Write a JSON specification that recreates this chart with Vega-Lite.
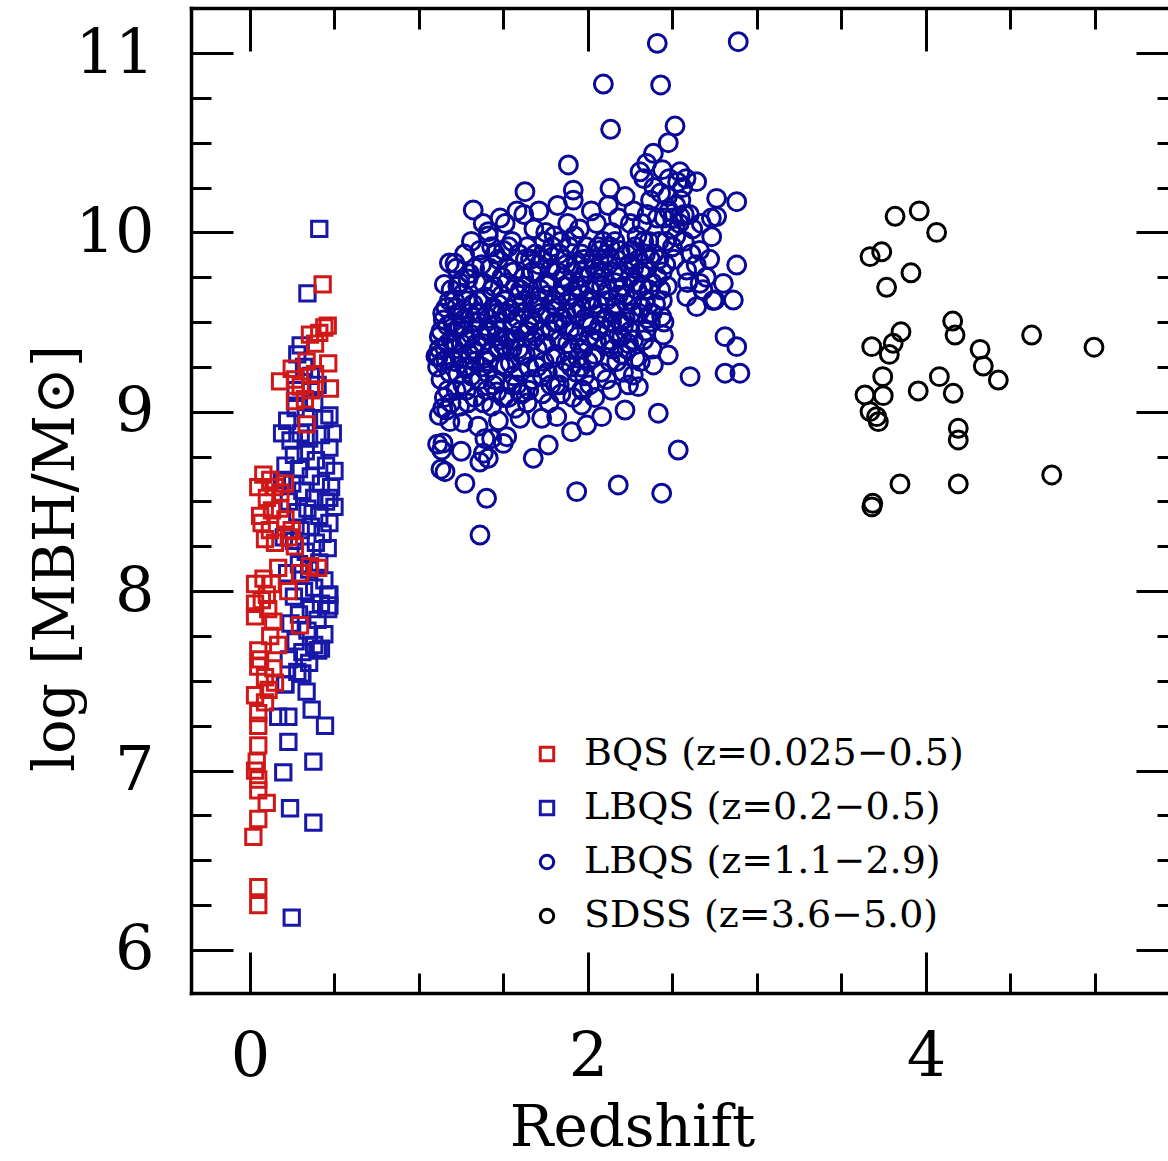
{
  "$schema": "https://vega.github.io/schema/vega-lite/v6.json",
  "autosize": {"type": "none"},
  "padding": {"left": 191, "top": 8, "right": 0, "bottom": 168},
  "width": 977,
  "height": 985,
  "background": "white",
  "config": {
    "view": {"stroke": null},
    "axis": {
      "grid": false,
      "domainColor": "black",
      "domainWidth": 3.5,
      "domainCap": "square",
      "tickColor": "black",
      "tickWidth": 3,
      "labelColor": "black",
      "titleColor": "black",
      "labelFont": "DejaVu Serif",
      "titleFont": "DejaVu Serif",
      "labelFontWeight": "normal",
      "titleFontWeight": "normal"
    }
  },
  "data": {
    "values": [
      {"s":"b","z":0.41,"m":10.02},{"s":"b","z":0.34,"m":9.66},{"s":"b","z":0.30,"m":9.37},{"s":"b","z":0.28,"m":9.32},{"s":"b","z":0.32,"m":9.25},
      {"s":"b","z":0.36,"m":9.20},{"s":"b","z":0.27,"m":9.12},{"s":"b","z":0.40,"m":9.15},{"s":"b","z":0.22,"m":8.95},{"s":"b","z":0.27,"m":9.02},
      {"s":"b","z":0.33,"m":8.97},{"s":"b","z":0.38,"m":9.05},{"s":"b","z":0.44,"m":8.96},{"s":"b","z":0.47,"m":8.98},{"s":"b","z":0.24,"m":8.84},
      {"s":"b","z":0.30,"m":8.88},{"s":"b","z":0.35,"m":8.85},{"s":"b","z":0.42,"m":8.87},{"s":"b","z":0.47,"m":8.80},{"s":"b","z":0.26,"m":8.76},
      {"s":"b","z":0.33,"m":8.78},{"s":"b","z":0.39,"m":8.73},{"s":"b","z":0.45,"m":8.70},{"s":"b","z":0.50,"m":8.67},{"s":"b","z":0.21,"m":8.70},
      {"s":"b","z":0.29,"m":8.68},{"s":"b","z":0.36,"m":8.64},{"s":"b","z":0.42,"m":8.60},{"s":"b","z":0.48,"m":8.58},{"s":"b","z":0.25,"m":8.60},
      {"s":"b","z":0.31,"m":8.56},{"s":"b","z":0.38,"m":8.52},{"s":"b","z":0.45,"m":8.50},{"s":"b","z":0.50,"m":8.47},{"s":"b","z":0.34,"m":8.46},
      {"s":"b","z":0.41,"m":8.42},{"s":"b","z":0.47,"m":8.38},{"s":"b","z":0.28,"m":8.44},{"s":"b","z":0.23,"m":8.50},{"s":"b","z":0.36,"m":8.36},
      {"s":"b","z":0.43,"m":8.32},{"s":"b","z":0.30,"m":8.34},{"s":"b","z":0.39,"m":8.27},{"s":"b","z":0.46,"m":8.24},{"s":"b","z":0.33,"m":8.22},
      {"s":"b","z":0.26,"m":8.28},{"s":"b","z":0.41,"m":8.16},{"s":"b","z":0.35,"m":8.12},{"s":"b","z":0.29,"m":8.15},{"s":"b","z":0.44,"m":8.06},
      {"s":"b","z":0.22,"m":8.10},{"s":"b","z":0.38,"m":8.02},{"s":"b","z":0.47,"m":7.98},{"s":"b","z":0.32,"m":8.00},{"s":"b","z":0.26,"m":7.97},
      {"s":"b","z":0.42,"m":7.93},{"s":"b","z":0.36,"m":7.90},{"s":"b","z":0.47,"m":7.92},{"s":"b","z":0.29,"m":7.87},{"s":"b","z":0.40,"m":7.84},
      {"s":"b","z":0.24,"m":7.82},{"s":"b","z":0.34,"m":7.78},{"s":"b","z":0.44,"m":7.76},{"s":"b","z":0.27,"m":7.72},{"s":"b","z":0.38,"m":7.70},
      {"s":"b","z":0.31,"m":7.66},{"s":"b","z":0.42,"m":7.68},{"s":"b","z":0.23,"m":7.62},{"s":"b","z":0.35,"m":7.60},{"s":"b","z":0.28,"m":7.55},
      {"s":"b","z":0.31,"m":7.54},{"s":"b","z":0.21,"m":7.48},{"s":"b","z":0.40,"m":7.67},{"s":"b","z":0.463,"m":7.98},{"s":"b","z":0.463,"m":7.90},
      {"s":"b","z":0.404,"m":7.67},{"s":"b","z":0.306,"m":7.54},{"s":"b","z":0.207,"m":7.48},{"s":"b","z":0.335,"m":7.44},{"s":"b","z":0.365,"m":7.34},
      {"s":"b","z":0.444,"m":7.25},{"s":"b","z":0.167,"m":7.30},{"s":"b","z":0.227,"m":7.30},{"s":"b","z":0.227,"m":7.16},{"s":"b","z":0.375,"m":7.05},
      {"s":"b","z":0.197,"m":6.99},{"s":"b","z":0.237,"m":6.79},{"s":"b","z":0.375,"m":6.71},{"s":"b","z":0.247,"m":6.18},{"s":"b","z":0.19,"m":8.88},
      {"s":"b","z":0.19,"m":8.62},{"s":"b","z":0.47,"m":8.52},{"s":"b","z":0.49,"m":8.88},{"s":"b","z":0.20,"m":8.30},

      {"s":"a","z":0.43,"m":9.71},{"s":"a","z":0.44,"m":9.47},{"s":"a","z":0.46,"m":9.48},{"s":"a","z":0.355,"m":9.43},{"s":"a","z":0.41,"m":9.44},
      {"s":"a","z":0.385,"m":9.38},{"s":"a","z":0.463,"m":9.27},{"s":"a","z":0.335,"m":9.28},{"s":"a","z":0.247,"m":9.24},{"s":"a","z":0.178,"m":9.17},
      {"s":"a","z":0.266,"m":9.18},{"s":"a","z":0.385,"m":9.21},{"s":"a","z":0.473,"m":9.13},{"s":"a","z":0.325,"m":9.07},{"s":"a","z":0.266,"m":9.06},
      {"s":"a","z":0.36,"m":9.12},{"s":"a","z":0.30,"m":9.14},{"s":"a","z":0.335,"m":8.93},{"s":"a","z":0.079,"m":8.65},{"s":"a","z":0.049,"m":8.58},
      {"s":"a","z":0.148,"m":8.58},{"s":"a","z":0.207,"m":8.60},{"s":"a","z":0.12,"m":8.62},{"s":"a","z":0.18,"m":8.55},{"s":"a","z":0.10,"m":8.52},
      {"s":"a","z":0.069,"m":8.38},{"s":"a","z":0.118,"m":8.34},{"s":"a","z":0.178,"m":8.46},{"s":"a","z":0.247,"m":8.34},{"s":"a","z":0.266,"m":8.25},
      {"s":"a","z":0.148,"m":8.27},{"s":"a","z":0.089,"m":8.29},{"s":"a","z":0.06,"m":8.42},{"s":"a","z":0.21,"m":8.40},{"s":"a","z":0.13,"m":8.45},
      {"s":"a","z":0.23,"m":8.30},{"s":"a","z":0.355,"m":8.14},{"s":"a","z":0.404,"m":8.13},{"s":"a","z":0.167,"m":8.13},{"s":"a","z":0.296,"m":8.10},
      {"s":"a","z":0.030,"m":8.04},{"s":"a","z":0.128,"m":8.04},{"s":"a","z":0.227,"m":8.00},{"s":"a","z":0.030,"m":7.93},{"s":"a","z":0.108,"m":7.90},
      {"s":"a","z":0.138,"m":7.83},{"s":"a","z":0.296,"m":7.81},{"s":"a","z":0.167,"m":7.70},{"s":"a","z":0.049,"m":7.67},{"s":"a","z":0.049,"m":7.58},
      {"s":"a","z":0.138,"m":7.57},{"s":"a","z":0.089,"m":7.52},{"s":"a","z":0.148,"m":7.49},{"s":"a","z":0.030,"m":7.42},{"s":"a","z":0.089,"m":7.38},
      {"s":"a","z":0.049,"m":7.32},{"s":"a","z":0.049,"m":7.25},{"s":"a","z":0.049,"m":7.14},{"s":"a","z":0.030,"m":7.00},{"s":"a","z":0.049,"m":6.95},
      {"s":"a","z":0.049,"m":6.89},{"s":"a","z":0.099,"m":6.82},{"s":"a","z":0.049,"m":6.73},{"s":"a","z":0.020,"m":6.63},{"s":"a","z":0.049,"m":6.35},
      {"s":"a","z":0.049,"m":6.25},{"s":"a","z":0.07,"m":7.95},{"s":"a","z":0.10,"m":7.98},{"s":"a","z":0.06,"m":7.62},{"s":"a","z":0.11,"m":7.45},
      {"s":"a","z":0.04,"m":7.05},{"s":"a","z":0.08,"m":8.07},{"s":"a","z":0.12,"m":7.75},{"s":"a","z":0.03,"m":7.86},

      {"s":"c","z":1.10,"m":9.31},{"s":"c","z":1.12,"m":9.42},{"s":"c","z":1.11,"m":9.25},{"s":"c","z":1.14,"m":9.55},{"s":"c","z":1.15,"m":9.36},
      {"s":"c","z":1.13,"m":9.18},{"s":"c","z":1.17,"m":9.48},{"s":"c","z":1.18,"m":9.62},{"s":"c","z":1.16,"m":9.29},{"s":"c","z":1.19,"m":9.05},
      {"s":"c","z":1.12,"m":8.98},{"s":"c","z":1.15,"m":9.71},{"s":"c","z":1.19,"m":9.40},{"s":"c","z":1.11,"m":8.82},{"s":"c","z":1.13,"m":8.68},
      {"s":"c","z":1.17,"m":9.12},{"s":"c","z":1.18,"m":9.83},{"s":"c","z":1.14,"m":9.02},
      {"s":"c","z":1.21,"m":9.35},{"s":"c","z":1.22,"m":9.58},{"s":"c","z":1.24,"m":9.47},{"s":"c","z":1.23,"m":9.21},{"s":"c","z":1.26,"m":9.66},
      {"s":"c","z":1.25,"m":9.30},{"s":"c","z":1.27,"m":9.52},{"s":"c","z":1.28,"m":9.12},{"s":"c","z":1.29,"m":9.74},{"s":"c","z":1.22,"m":9.80},
      {"s":"c","z":1.24,"m":9.03},{"s":"c","z":1.26,"m":8.94},{"s":"c","z":1.28,"m":9.40},{"s":"c","z":1.21,"m":9.62},{"s":"c","z":1.27,"m":9.88},
      {"s":"c","z":1.29,"m":9.25},{"s":"c","z":1.23,"m":9.70},{"s":"c","z":1.25,"m":8.78},{"s":"c","z":1.30,"m":9.55},{"s":"c","z":1.26,"m":9.15},
      {"s":"c","z":1.31,"m":9.43},{"s":"c","z":1.32,"m":9.60},{"s":"c","z":1.33,"m":9.28},{"s":"c","z":1.34,"m":9.72},{"s":"c","z":1.35,"m":9.50},
      {"s":"c","z":1.36,"m":9.18},{"s":"c","z":1.37,"m":9.82},{"s":"c","z":1.38,"m":9.38},{"s":"c","z":1.39,"m":9.64},{"s":"c","z":1.31,"m":9.95},
      {"s":"c","z":1.33,"m":9.08},{"s":"c","z":1.35,"m":8.92},{"s":"c","z":1.36,"m":9.90},{"s":"c","z":1.38,"m":9.05},{"s":"c","z":1.40,"m":9.45},
      {"s":"c","z":1.32,"m":9.35},{"s":"c","z":1.34,"m":9.55},{"s":"c","z":1.37,"m":9.25},{"s":"c","z":1.39,"m":8.85},{"s":"c","z":1.30,"m":9.77},
      {"s":"c","z":1.36,"m":8.72},{"s":"c","z":1.38,"m":10.05},
      {"s":"c","z":1.41,"m":9.52},{"s":"c","z":1.42,"m":9.33},{"s":"c","z":1.43,"m":9.68},{"s":"c","z":1.44,"m":9.15},{"s":"c","z":1.45,"m":9.88},
      {"s":"c","z":1.46,"m":9.42},{"s":"c","z":1.47,"m":9.60},{"s":"c","z":1.48,"m":9.26},{"s":"c","z":1.49,"m":9.75},{"s":"c","z":1.41,"m":9.98},
      {"s":"c","z":1.43,"m":9.03},{"s":"c","z":1.45,"m":9.48},{"s":"c","z":1.47,"m":8.95},{"s":"c","z":1.48,"m":10.08},{"s":"c","z":1.50,"m":9.37},
      {"s":"c","z":1.42,"m":9.80},{"s":"c","z":1.44,"m":9.58},{"s":"c","z":1.46,"m":9.11},{"s":"c","z":1.49,"m":9.55},{"s":"c","z":1.40,"m":9.22},
      {"s":"c","z":1.47,"m":9.85},{"s":"c","z":1.43,"m":8.85},
      {"s":"c","z":1.51,"m":9.62},{"s":"c","z":1.52,"m":9.41},{"s":"c","z":1.53,"m":9.80},{"s":"c","z":1.54,"m":9.27},{"s":"c","z":1.55,"m":9.95},
      {"s":"c","z":1.56,"m":9.50},{"s":"c","z":1.57,"m":9.70},{"s":"c","z":1.58,"m":9.15},{"s":"c","z":1.59,"m":9.88},{"s":"c","z":1.51,"m":10.05},
      {"s":"c","z":1.53,"m":9.08},{"s":"c","z":1.55,"m":9.35},{"s":"c","z":1.57,"m":9.02},{"s":"c","z":1.58,"m":10.12},{"s":"c","z":1.60,"m":9.45},
      {"s":"c","z":1.52,"m":9.72},{"s":"c","z":1.54,"m":9.57},{"s":"c","z":1.56,"m":9.20},{"s":"c","z":1.59,"m":9.65},{"s":"c","z":1.50,"m":9.90},
      {"s":"c","z":1.57,"m":9.40},
      {"s":"c","z":1.61,"m":9.55},{"s":"c","z":1.62,"m":9.75},{"s":"c","z":1.63,"m":9.32},{"s":"c","z":1.64,"m":9.92},{"s":"c","z":1.65,"m":9.48},
      {"s":"c","z":1.66,"m":9.65},{"s":"c","z":1.67,"m":9.18},{"s":"c","z":1.68,"m":10.02},{"s":"c","z":1.69,"m":9.42},{"s":"c","z":1.61,"m":9.10},
      {"s":"c","z":1.63,"m":9.85},{"s":"c","z":1.65,"m":9.25},{"s":"c","z":1.67,"m":9.78},{"s":"c","z":1.68,"m":9.60},{"s":"c","z":1.70,"m":9.35},
      {"s":"c","z":1.62,"m":10.10},{"s":"c","z":1.64,"m":9.05},{"s":"c","z":1.66,"m":9.52},{"s":"c","z":1.69,"m":9.88},{"s":"c","z":1.60,"m":9.68},
      {"s":"c","z":1.71,"m":9.62},{"s":"c","z":1.72,"m":9.45},{"s":"c","z":1.73,"m":9.85},{"s":"c","z":1.74,"m":9.28},{"s":"c","z":1.75,"m":10.00},
      {"s":"c","z":1.76,"m":9.55},{"s":"c","z":1.77,"m":9.72},{"s":"c","z":1.78,"m":9.15},{"s":"c","z":1.79,"m":9.92},{"s":"c","z":1.71,"m":10.12},
      {"s":"c","z":1.73,"m":9.10},{"s":"c","z":1.75,"m":9.38},{"s":"c","z":1.77,"m":9.05},{"s":"c","z":1.78,"m":9.80},{"s":"c","z":1.80,"m":9.50},
      {"s":"c","z":1.72,"m":9.68},{"s":"c","z":1.74,"m":9.95},{"s":"c","z":1.76,"m":9.22},{"s":"c","z":1.79,"m":9.60},{"s":"c","z":1.70,"m":9.78},
      {"s":"c","z":1.81,"m":9.58},{"s":"c","z":1.82,"m":9.78},{"s":"c","z":1.83,"m":9.40},{"s":"c","z":1.84,"m":9.95},{"s":"c","z":1.85,"m":9.52},
      {"s":"c","z":1.86,"m":9.70},{"s":"c","z":1.87,"m":9.28},{"s":"c","z":1.88,"m":10.05},{"s":"c","z":1.89,"m":9.45},{"s":"c","z":1.81,"m":9.15},
      {"s":"c","z":1.83,"m":9.88},{"s":"c","z":1.85,"m":9.22},{"s":"c","z":1.87,"m":9.82},{"s":"c","z":1.88,"m":9.62},{"s":"c","z":1.90,"m":9.35},
      {"s":"c","z":1.82,"m":10.15},{"s":"c","z":1.84,"m":9.10},{"s":"c","z":1.86,"m":9.48},{"s":"c","z":1.89,"m":9.72},{"s":"c","z":1.80,"m":9.98},
      {"s":"c","z":1.91,"m":9.65},{"s":"c","z":1.92,"m":9.45},{"s":"c","z":1.93,"m":9.82},{"s":"c","z":1.94,"m":9.30},{"s":"c","z":1.95,"m":10.02},
      {"s":"c","z":1.96,"m":9.58},{"s":"c","z":1.97,"m":9.75},{"s":"c","z":1.98,"m":9.20},{"s":"c","z":1.99,"m":9.92},{"s":"c","z":1.91,"m":9.08},
      {"s":"c","z":1.93,"m":9.55},{"s":"c","z":1.95,"m":9.38},{"s":"c","z":1.97,"m":9.12},{"s":"c","z":1.98,"m":9.85},{"s":"c","z":2.00,"m":9.50},
      {"s":"c","z":1.92,"m":9.98},{"s":"c","z":1.94,"m":9.70},{"s":"c","z":1.96,"m":9.25},{"s":"c","z":1.99,"m":9.62},
      {"s":"c","z":2.01,"m":9.68},{"s":"c","z":2.02,"m":9.48},{"s":"c","z":2.03,"m":9.85},{"s":"c","z":2.04,"m":9.32},{"s":"c","z":2.05,"m":10.05},
      {"s":"c","z":2.06,"m":9.60},{"s":"c","z":2.07,"m":9.78},{"s":"c","z":2.08,"m":9.22},{"s":"c","z":2.09,"m":9.95},{"s":"c","z":2.01,"m":9.15},
      {"s":"c","z":2.03,"m":9.58},{"s":"c","z":2.05,"m":9.40},{"s":"c","z":2.07,"m":9.90},{"s":"c","z":2.08,"m":9.70},{"s":"c","z":2.10,"m":9.52},
      {"s":"c","z":2.02,"m":10.12},{"s":"c","z":2.04,"m":9.08},{"s":"c","z":2.06,"m":9.45},{"s":"c","z":2.09,"m":9.75},
      {"s":"c","z":2.11,"m":9.62},{"s":"c","z":2.12,"m":9.82},{"s":"c","z":2.13,"m":9.40},{"s":"c","z":2.14,"m":10.00},{"s":"c","z":2.15,"m":9.55},
      {"s":"c","z":2.16,"m":9.72},{"s":"c","z":2.17,"m":9.28},{"s":"c","z":2.18,"m":10.08},{"s":"c","z":2.19,"m":9.50},{"s":"c","z":2.11,"m":9.18},
      {"s":"c","z":2.13,"m":9.92},{"s":"c","z":2.15,"m":9.35},{"s":"c","z":2.17,"m":9.85},{"s":"c","z":2.18,"m":9.65},{"s":"c","z":2.20,"m":9.42},
      {"s":"c","z":2.12,"m":10.15},{"s":"c","z":2.14,"m":9.12},{"s":"c","z":2.16,"m":9.58},{"s":"c","z":2.19,"m":9.78},
      {"s":"c","z":2.21,"m":9.70},{"s":"c","z":2.22,"m":9.52},{"s":"c","z":2.23,"m":9.88},{"s":"c","z":2.24,"m":9.38},{"s":"c","z":2.25,"m":10.05},
      {"s":"c","z":2.26,"m":9.62},{"s":"c","z":2.27,"m":9.80},{"s":"c","z":2.28,"m":9.30},{"s":"c","z":2.29,"m":9.98},{"s":"c","z":2.21,"m":9.22},
      {"s":"c","z":2.23,"m":9.60},{"s":"c","z":2.25,"m":9.45},{"s":"c","z":2.27,"m":10.12},{"s":"c","z":2.28,"m":9.72},{"s":"c","z":2.30,"m":9.55},
      {"s":"c","z":2.22,"m":10.20},{"s":"c","z":2.24,"m":9.15},{"s":"c","z":2.26,"m":9.90},
      {"s":"c","z":2.31,"m":9.78},{"s":"c","z":2.32,"m":9.58},{"s":"c","z":2.33,"m":9.95},{"s":"c","z":2.34,"m":9.45},{"s":"c","z":2.35,"m":10.10},
      {"s":"c","z":2.36,"m":9.68},{"s":"c","z":2.37,"m":9.85},{"s":"c","z":2.38,"m":9.35},{"s":"c","z":2.39,"m":10.25},{"s":"c","z":2.31,"m":9.28},
      {"s":"c","z":2.33,"m":10.30},{"s":"c","z":2.35,"m":9.52},{"s":"c","z":2.37,"m":10.18},{"s":"c","z":2.38,"m":9.72},{"s":"c","z":2.40,"m":9.60},
      {"s":"c","z":2.32,"m":10.05},{"s":"c","z":2.34,"m":9.88},
      {"s":"c","z":2.41,"m":9.75},{"s":"c","z":2.42,"m":9.95},{"s":"c","z":2.43,"m":10.22},{"s":"c","z":2.44,"m":9.62},{"s":"c","z":2.45,"m":10.08},
      {"s":"c","z":2.46,"m":9.82},{"s":"c","z":2.48,"m":10.30},{"s":"c","z":2.50,"m":9.92},{"s":"c","z":2.52,"m":10.15},{"s":"c","z":2.47,"m":9.70},
      {"s":"c","z":2.49,"m":10.02},{"s":"c","z":2.53,"m":10.28},{"s":"c","z":2.51,"m":9.85},{"s":"c","z":2.54,"m":10.05},{"s":"c","z":2.45,"m":9.50},
      {"s":"c","z":2.56,"m":10.25},{"s":"c","z":2.58,"m":10.30},{"s":"c","z":2.60,"m":10.10},{"s":"c","z":2.57,"m":9.95},{"s":"c","z":2.62,"m":10.02},
      {"s":"c","z":2.64,"m":9.82},{"s":"c","z":2.66,"m":9.90},{"s":"c","z":2.68,"m":9.68},{"s":"c","z":2.70,"m":9.75},{"s":"c","z":2.72,"m":9.85},
      {"s":"c","z":2.74,"m":9.62},{"s":"c","z":2.59,"m":9.72},{"s":"c","z":2.61,"m":9.88},{"s":"c","z":2.67,"m":10.05},{"s":"c","z":2.73,"m":10.08},
      {"s":"c","z":1.13,"m":9.45},{"s":"c","z":1.16,"m":9.58},{"s":"c","z":1.12,"m":9.35},{"s":"c","z":1.18,"m":9.22},{"s":"c","z":1.20,"m":9.50},
      {"s":"c","z":1.15,"m":9.08},{"s":"c","z":1.19,"m":9.68},{"s":"c","z":1.14,"m":9.28},{"s":"c","z":1.17,"m":9.38},{"s":"c","z":1.21,"m":9.45},
      {"s":"c","z":1.23,"m":9.55},{"s":"c","z":1.25,"m":9.38},{"s":"c","z":1.27,"m":9.25},{"s":"c","z":1.24,"m":9.72},{"s":"c","z":1.22,"m":9.12},
      {"s":"c","z":1.28,"m":9.62},{"s":"c","z":1.30,"m":9.32},{"s":"c","z":1.26,"m":9.48},{"s":"c","z":1.29,"m":9.05},{"s":"c","z":1.21,"m":9.28},
      {"s":"c","z":1.32,"m":9.50},{"s":"c","z":1.34,"m":9.38},{"s":"c","z":1.31,"m":9.20},{"s":"c","z":1.35,"m":9.62},{"s":"c","z":1.37,"m":9.42},
      {"s":"c","z":1.33,"m":9.80},{"s":"c","z":1.39,"m":9.30},{"s":"c","z":1.36,"m":9.55},{"s":"c","z":1.38,"m":9.72},{"s":"c","z":1.40,"m":9.12},
      {"s":"c","z":1.42,"m":9.45},{"s":"c","z":1.44,"m":9.70},{"s":"c","z":1.41,"m":9.28},{"s":"c","z":1.46,"m":9.55},{"s":"c","z":1.48,"m":9.40},
      {"s":"c","z":1.43,"m":9.92},{"s":"c","z":1.45,"m":9.18},{"s":"c","z":1.47,"m":9.35},{"s":"c","z":1.49,"m":9.65},{"s":"c","z":1.50,"m":9.08},
      {"s":"c","z":1.52,"m":9.55},{"s":"c","z":1.54,"m":9.40},{"s":"c","z":1.51,"m":9.25},{"s":"c","z":1.56,"m":9.78},{"s":"c","z":1.58,"m":9.52},
      {"s":"c","z":1.53,"m":9.92},{"s":"c","z":1.55,"m":9.15},{"s":"c","z":1.57,"m":9.60},{"s":"c","z":1.59,"m":9.35},{"s":"c","z":1.60,"m":9.22},
      {"s":"c","z":1.62,"m":9.62},{"s":"c","z":1.64,"m":9.45},{"s":"c","z":1.61,"m":9.32},{"s":"c","z":1.66,"m":9.85},{"s":"c","z":1.68,"m":9.50},
      {"s":"c","z":1.63,"m":9.70},{"s":"c","z":1.65,"m":9.12},{"s":"c","z":1.67,"m":9.40},{"s":"c","z":1.69,"m":9.58},{"s":"c","z":1.70,"m":9.25},
      {"s":"c","z":1.72,"m":9.55},{"s":"c","z":1.74,"m":9.38},{"s":"c","z":1.71,"m":9.82},{"s":"c","z":1.76,"m":9.65},{"s":"c","z":1.78,"m":9.45},
      {"s":"c","z":1.73,"m":9.20},{"s":"c","z":1.75,"m":9.72},{"s":"c","z":1.77,"m":9.88},{"s":"c","z":1.79,"m":9.30},{"s":"c","z":1.80,"m":9.62},
      {"s":"c","z":1.82,"m":9.50},{"s":"c","z":1.84,"m":9.65},{"s":"c","z":1.81,"m":9.32},{"s":"c","z":1.86,"m":9.85},{"s":"c","z":1.88,"m":9.38},
      {"s":"c","z":1.83,"m":9.15},{"s":"c","z":1.85,"m":9.75},{"s":"c","z":1.87,"m":9.55},{"s":"c","z":1.89,"m":9.92},{"s":"c","z":1.90,"m":9.25},
      {"s":"c","z":1.92,"m":9.58},{"s":"c","z":1.94,"m":9.42},{"s":"c","z":1.91,"m":9.78},{"s":"c","z":1.96,"m":9.88},{"s":"c","z":1.98,"m":9.52},
      {"s":"c","z":1.93,"m":9.22},{"s":"c","z":1.95,"m":9.68},{"s":"c","z":1.97,"m":9.35},{"s":"c","z":1.99,"m":9.80},{"s":"c","z":2.00,"m":9.28},
      {"s":"c","z":2.02,"m":9.62},{"s":"c","z":2.04,"m":9.80},{"s":"c","z":2.01,"m":9.42},{"s":"c","z":2.06,"m":9.92},{"s":"c","z":2.08,"m":9.55},
      {"s":"c","z":2.03,"m":9.30},{"s":"c","z":2.05,"m":9.72},{"s":"c","z":2.07,"m":9.48},{"s":"c","z":2.09,"m":9.85},{"s":"c","z":2.10,"m":9.38},
      {"s":"c","z":2.12,"m":9.68},{"s":"c","z":2.14,"m":9.50},{"s":"c","z":2.11,"m":9.88},{"s":"c","z":2.16,"m":9.95},{"s":"c","z":2.18,"m":9.42},
      {"s":"c","z":2.13,"m":9.28},{"s":"c","z":2.15,"m":9.78},{"s":"c","z":2.17,"m":9.60},{"s":"c","z":2.19,"m":9.90},{"s":"c","z":2.20,"m":9.32},
      {"s":"c","z":2.22,"m":9.65},{"s":"c","z":2.24,"m":9.82},{"s":"c","z":2.21,"m":9.48},{"s":"c","z":2.26,"m":9.55},{"s":"c","z":2.28,"m":9.92},
      {"s":"c","z":2.23,"m":9.35},{"s":"c","z":2.25,"m":9.75},{"s":"c","z":2.27,"m":9.40},{"s":"c","z":2.29,"m":9.68},{"s":"c","z":2.30,"m":9.85},
      {"s":"c","z":2.32,"m":9.70},{"s":"c","z":2.34,"m":9.62},{"s":"c","z":2.36,"m":9.95},{"s":"c","z":2.38,"m":9.55},{"s":"c","z":2.35,"m":9.80},
      {"s":"c","z":2.33,"m":9.40},{"s":"c","z":2.39,"m":9.88},{"s":"c","z":2.37,"m":9.50},{"s":"c","z":2.42,"m":9.85},{"s":"c","z":2.44,"m":9.78},
      {"s":"c","z":2.46,"m":9.95},{"s":"c","z":2.48,"m":10.12},{"s":"c","z":2.41,"m":10.08},{"s":"c","z":2.43,"m":9.68},{"s":"c","z":2.47,"m":10.20},
      {"s":"c","z":2.50,"m":10.08},{"s":"c","z":2.52,"m":9.98},{"s":"c","z":2.55,"m":10.18},{"s":"c","z":2.57,"m":10.10},{"s":"c","z":2.44,"m":10.35},
      {"s":"c","z":2.410,"m":11.054},{"s":"c","z":2.889,"m":11.063},{"s":"c","z":2.091,"m":10.827},{"s":"c","z":2.430,"m":10.822},{"s":"c","z":2.134,"m":10.575},
      {"s":"c","z":2.515,"m":10.593},{"s":"c","z":2.475,"m":10.500},{"s":"c","z":2.387,"m":10.441},{"s":"c","z":1.884,"m":10.376},{"s":"c","z":2.347,"m":10.385},
      {"s":"c","z":2.308,"m":10.338},{"s":"c","z":2.544,"m":10.338},{"s":"c","z":2.643,"m":10.283},{"s":"c","z":1.627,"m":10.227},{"s":"c","z":1.321,"m":10.125},
      {"s":"c","z":1.913,"m":10.236},{"s":"c","z":1.913,"m":10.180},{"s":"c","z":2.130,"m":10.246},{"s":"c","z":2.761,"m":10.190},{"s":"c","z":2.880,"m":10.171},
      {"s":"c","z":2.761,"m":10.088},{"s":"c","z":2.544,"m":10.088},{"s":"c","z":1.410,"m":10.004},{"s":"c","z":2.732,"m":9.976},{"s":"c","z":2.880,"m":9.818},
      {"s":"c","z":2.584,"m":9.790},{"s":"c","z":2.663,"m":9.716},{"s":"c","z":2.801,"m":9.716},{"s":"c","z":2.643,"m":9.586},{"s":"c","z":2.860,"m":9.623},
      {"s":"c","z":2.751,"m":9.623},{"s":"c","z":2.584,"m":9.642},{"s":"c","z":2.811,"m":9.419},{"s":"c","z":2.880,"m":9.363},{"s":"c","z":2.811,"m":9.215},
      {"s":"c","z":2.899,"m":9.215},{"s":"c","z":2.604,"m":9.196},{"s":"c","z":2.436,"m":9.530},{"s":"c","z":2.446,"m":9.428},{"s":"c","z":2.475,"m":9.317},
      {"s":"c","z":2.387,"m":9.261},{"s":"c","z":2.268,"m":9.205},{"s":"c","z":2.298,"m":9.140},{"s":"c","z":2.534,"m":8.787},{"s":"c","z":2.416,"m":8.992},
      {"s":"c","z":2.219,"m":9.010},{"s":"c","z":2.081,"m":8.973},{"s":"c","z":1.963,"m":9.038},{"s":"c","z":1.992,"m":8.926},{"s":"c","z":1.903,"m":8.889},
      {"s":"c","z":1.963,"m":9.122},{"s":"c","z":1.815,"m":8.973},{"s":"c","z":1.726,"m":8.964},{"s":"c","z":1.598,"m":8.964},{"s":"c","z":1.765,"m":8.815},
      {"s":"c","z":1.676,"m":8.741},{"s":"c","z":1.933,"m":8.555},{"s":"c","z":2.179,"m":8.592},{"s":"c","z":2.436,"m":8.546},{"s":"c","z":1.361,"m":8.313},
      {"s":"c","z":1.400,"m":8.518},{"s":"c","z":1.272,"m":8.601},{"s":"c","z":1.154,"m":8.666},{"s":"c","z":1.134,"m":8.787},{"s":"c","z":1.142,"m":8.826},
      {"s":"c","z":1.410,"m":8.741},{"s":"c","z":1.381,"m":8.769},{"s":"c","z":1.499,"m":8.824},{"s":"c","z":1.519,"m":8.861},{"s":"c","z":1.598,"m":9.103},
      {"s":"c","z":1.183,"m":8.945},{"s":"c","z":1.164,"m":9.010},{"s":"c","z":1.144,"m":9.512},{"s":"c","z":1.213,"m":9.828},{"s":"c","z":1.114,"m":9.307},

      {"s":"d","z":3.817,"m":10.09},{"s":"d","z":3.960,"m":10.12},{"s":"d","z":4.063,"m":10.00},{"s":"d","z":3.669,"m":9.865},{"s":"d","z":3.738,"m":9.892},
      {"s":"d","z":3.911,"m":9.775},{"s":"d","z":3.767,"m":9.694},{"s":"d","z":4.158,"m":9.506},{"s":"d","z":4.172,"m":9.428},{"s":"d","z":3.852,"m":9.446},
      {"s":"d","z":3.679,"m":9.363},{"s":"d","z":3.806,"m":9.382},{"s":"d","z":3.783,"m":9.320},{"s":"d","z":4.625,"m":9.428},{"s":"d","z":4.994,"m":9.360},
      {"s":"d","z":4.320,"m":9.348},{"s":"d","z":4.339,"m":9.255},{"s":"d","z":4.428,"m":9.177},{"s":"d","z":3.744,"m":9.196},{"s":"d","z":4.079,"m":9.196},
      {"s":"d","z":3.954,"m":9.116},{"s":"d","z":4.161,"m":9.103},{"s":"d","z":3.639,"m":9.094},{"s":"d","z":3.747,"m":9.090},{"s":"d","z":3.669,"m":9.001},
      {"s":"d","z":3.708,"m":8.973},{"s":"d","z":3.718,"m":8.945},{"s":"d","z":4.191,"m":8.908},{"s":"d","z":4.191,"m":8.843},{"s":"d","z":3.846,"m":8.598},
      {"s":"d","z":4.191,"m":8.598},{"s":"d","z":4.744,"m":8.648},{"s":"d","z":3.685,"m":8.490},{"s":"d","z":3.680,"m":8.470}
    ]
  },
  "resolve": {"axis": {"x": "independent", "y": "independent"}},
  "layer": [
    {
      "transform": [{"filter": "datum.s == 'a' || datum.s == 'b'"}],
      "mark": {"type": "point", "filled": false, "strokeWidth": 3, "size": 235, "opacity": 1},
      "encoding": {
        "x": {"field": "z", "type": "quantitative",
              "scale": {"domain": [-0.349, 5.432], "zero": false, "nice": false},
              "axis": {"orient": "bottom", "values": [0, 2, 4], "ticks": false, "tickSize": 0,
                       "labelFontSize": 62, "labelPadding": 82, "labelBaseline": "alphabetic", "labelFlush": false,
                       "title": "Redshift", "titleFontSize": 58, "titleBaseline": "alphabetic", "titleAlign": "center",
                       "titleX": 441, "titleY": 152}},
        "y": {"field": "m", "type": "quantitative",
              "scale": {"domain": [5.76, 11.251], "zero": false, "nice": false},
              "axis": {"orient": "left", "values": [6, 7, 8, 9, 10, 11], "ticks": false, "tickSize": 0,
                       "labelFontSize": 62, "labelPadding": 37, "labelBaseline": "middle", "labelFlush": false,
                       "title": "log [MBH/M⊙]", "titleFontSize": 57, "titleAngle": 270, "titleBaseline": "alphabetic",
                       "titleAlign": "center", "titleX": -118, "titleY": 550}},
        "color": {"field": "s", "type": "nominal",
                  "scale": {"domain": ["a", "b", "c", "d"], "range": ["#d01818", "#1818a8", "#0a0a98", "#000000"]},
                  "legend": {"title": null, "orient": "none", "legendX": 337, "legendY": 727,
                             "labelFont": "DejaVu Serif", "labelFontSize": 38, "labelColor": "black",
                             "labelExpr": "datum.label == 'a' ? 'BQS (z=0.025−0.5)' : datum.label == 'b' ? 'LBQS (z=0.2−0.5)' : datum.label == 'c' ? 'LBQS (z=1.1−2.9)' : 'SDSS (z=3.6−5.0)'",
                             "symbolSize": 180, "symbolStrokeWidth": 3, "symbolFillColor": "transparent",
                             "labelOffset": 18, "rowPadding": 16, "labelLimit": 600}},
        "shape": {"field": "s", "type": "nominal",
                  "scale": {"domain": ["a", "b", "c", "d"], "range": ["square", "square", "circle", "circle"]},
                  "legend": {"title": null, "orient": "none", "legendX": 337, "legendY": 727,
                             "labelFont": "DejaVu Serif", "labelFontSize": 38, "labelColor": "black",
                             "labelExpr": "datum.label == 'a' ? 'BQS (z=0.025−0.5)' : datum.label == 'b' ? 'LBQS (z=0.2−0.5)' : datum.label == 'c' ? 'LBQS (z=1.1−2.9)' : 'SDSS (z=3.6−5.0)'",
                             "symbolSize": 180, "symbolStrokeWidth": 3, "symbolFillColor": "transparent",
                             "labelOffset": 18, "rowPadding": 16, "labelLimit": 600}}
      }
    },
    {
      "transform": [{"filter": "datum.s == 'c' || datum.s == 'd'"}],
      "mark": {"type": "point", "filled": false, "strokeWidth": 3, "size": 320, "opacity": 1},
      "encoding": {
        "x": {"field": "z", "type": "quantitative",
              "axis": {"orient": "bottom", "values": [0, 2, 4], "tickSize": -41, "labels": false, "domain": false, "title": null}},
        "y": {"field": "m", "type": "quantitative",
              "axis": {"orient": "left", "values": [6, 7, 8, 9, 10, 11], "tickSize": -42, "labels": false, "domain": false, "title": null}},
        "color": {"field": "s", "type": "nominal"},
        "shape": {"field": "s", "type": "nominal"}
      }
    },
    {
      "transform": [{"filter": "datum.s == 'd'"}],
      "mark": {"type": "point", "opacity": 0},
      "encoding": {
        "x": {"field": "z", "type": "quantitative",
              "axis": {"orient": "bottom", "values": [0.5, 1, 1.5, 2.5, 3, 3.5, 4.5, 5], "tickSize": -20, "labels": false, "domain": false, "title": null}},
        "y": {"field": "m", "type": "quantitative",
              "axis": {"orient": "left", "values": [6.25, 6.5, 6.75, 7.25, 7.5, 7.75, 8.25, 8.5, 8.75, 9.25, 9.5, 9.75, 10.25, 10.5, 10.75], "tickSize": -20, "labels": false, "domain": false, "title": null}}
      }
    },
    {
      "transform": [{"filter": "datum.s == 'd'"}],
      "mark": {"type": "point", "opacity": 0},
      "encoding": {
        "x": {"field": "z", "type": "quantitative",
              "axis": {"orient": "top", "values": [0, 2, 4], "tickSize": -43, "labels": false, "domain": true, "title": null}},
        "y": {"field": "m", "type": "quantitative",
              "axis": {"orient": "right", "values": [6, 7, 8, 9, 10, 11], "tickSize": -32, "labels": false, "domain": false, "title": null}}
      }
    },
    {
      "transform": [{"filter": "datum.s == 'd'"}],
      "mark": {"type": "point", "opacity": 0},
      "encoding": {
        "x": {"field": "z", "type": "quantitative",
              "axis": {"orient": "top", "values": [0.5, 1, 1.5, 2.5, 3, 3.5, 4.5, 5], "tickSize": -21, "labels": false, "domain": false, "title": null}},
        "y": {"field": "m", "type": "quantitative",
              "axis": {"orient": "right", "values": [6.25, 6.5, 6.75, 7.25, 7.5, 7.75, 8.25, 8.5, 8.75, 9.25, 9.5, 9.75, 10.25, 10.5, 10.75], "tickSize": -11, "labels": false, "domain": false, "title": null}}
      }
    }
  ]
}
